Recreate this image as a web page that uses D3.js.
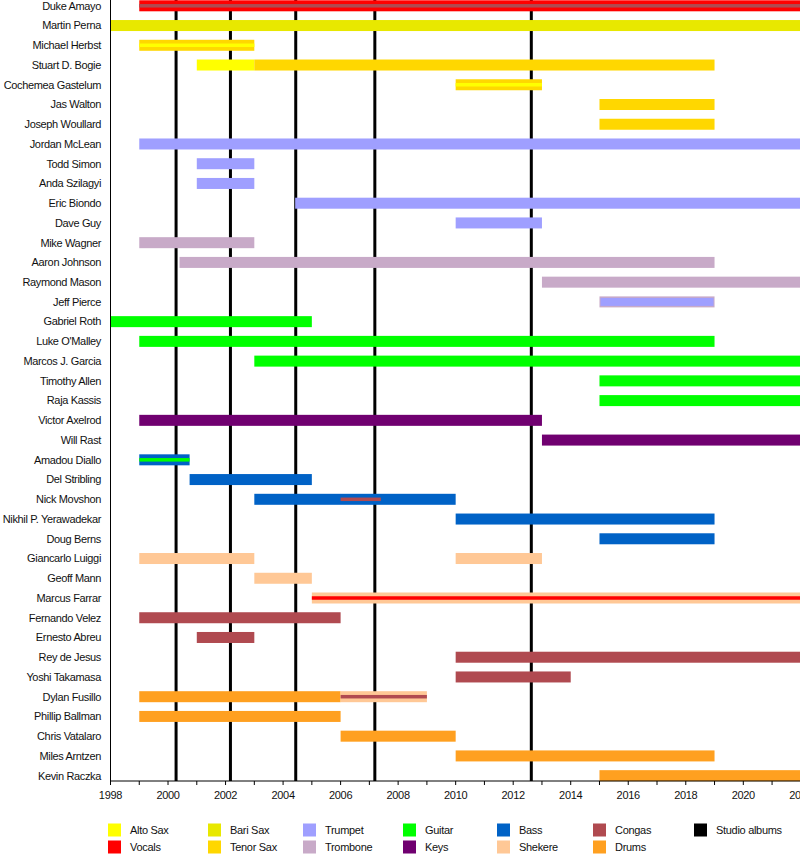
<!DOCTYPE html>
<html><head><meta charset="utf-8">
<script src="https://cdn.jsdelivr.net/npm/d3@7"></script>
<style>
html,body{margin:0;padding:0;background:#fff;}
svg{display:block;font-family:"Liberation Sans",Arial,sans-serif;}
</style></head>
<body><svg id="c" width="800" height="855"></svg>
<script>
const members = ["Duke Amayo","Martin Perna","Michael Herbst","Stuart D. Bogie","Cochemea Gastelum","Jas Walton","Joseph Woullard","Jordan McLean","Todd Simon","Anda Szilagyi","Eric Biondo","Dave Guy","Mike Wagner","Aaron Johnson","Raymond Mason","Jeff Pierce","Gabriel Roth","Luke O'Malley","Marcos J. Garcia","Timothy Allen","Raja Kassis","Victor Axelrod","Will Rast","Amadou Diallo","Del Stribling","Nick Movshon","Nikhil P. Yerawadekar","Doug Berns","Giancarlo Luiggi","Geoff Mann","Marcus Farrar","Fernando Velez","Ernesto Abreu","Rey de Jesus","Yoshi Takamasa","Dylan Fusillo","Phillip Ballman","Chris Vatalaro","Miles Arntzen","Kevin Raczka"];

const instruments = ["Alto Sax","Vocals","Bari Sax","Tenor Sax","Trumpet","Trombone","Guitar","Keys","Bass","Shekere","Congas","Drums","Studio albums"];
const instrumentColors = ["#ffff00","#ff0000","#e8e800","#ffd700","#9f9fff","#c8aac8","#00ff00","#700070","#0062c6","#ffc896","#b04a50","#ffa020","#000000"];

const PRESENT = 2023;
// main periods: [member, instrument, start, end]
const periods = [
 ["Duke Amayo","Vocals",1999,PRESENT],
 ["Martin Perna","Bari Sax",1998,PRESENT],
 ["Michael Herbst","Tenor Sax",1999,2003],
 ["Stuart D. Bogie","Alto Sax",2001,2003],
 ["Stuart D. Bogie","Tenor Sax",2003,2019],
 ["Cochemea Gastelum","Tenor Sax",2010,2013],
 ["Jas Walton","Tenor Sax",2015,2019],
 ["Joseph Woullard","Tenor Sax",2015,2019],
 ["Jordan McLean","Trumpet",1999,PRESENT],
 ["Todd Simon","Trumpet",2001,2003],
 ["Anda Szilagyi","Trumpet",2001,2003],
 ["Eric Biondo","Trumpet",2004.42,PRESENT],
 ["Dave Guy","Trumpet",2010,2013],
 ["Mike Wagner","Trombone",1999,2003],
 ["Aaron Johnson","Trombone",2000.4,2019],
 ["Raymond Mason","Trombone",2013,PRESENT],
 ["Jeff Pierce","Trombone",2015,2019],
 ["Gabriel Roth","Guitar",1998,2005],
 ["Luke O'Malley","Guitar",1999,2019],
 ["Marcos J. Garcia","Guitar",2003,PRESENT],
 ["Timothy Allen","Guitar",2015,PRESENT],
 ["Raja Kassis","Guitar",2015,PRESENT],
 ["Victor Axelrod","Keys",1999,2013],
 ["Will Rast","Keys",2013,PRESENT],
 ["Amadou Diallo","Bass",1999,2000.75],
 ["Del Stribling","Bass",2000.75,2005],
 ["Nick Movshon","Bass",2003,2010],
 ["Nikhil P. Yerawadekar","Bass",2010,2019],
 ["Doug Berns","Bass",2015,2019],
 ["Giancarlo Luiggi","Shekere",1999,2003],
 ["Giancarlo Luiggi","Shekere",2010,2013],
 ["Geoff Mann","Shekere",2003,2005],
 ["Marcus Farrar","Shekere",2005,PRESENT],
 ["Fernando Velez","Congas",1999,2006],
 ["Ernesto Abreu","Congas",2001,2003],
 ["Rey de Jesus","Congas",2010,PRESENT],
 ["Yoshi Takamasa","Congas",2010,2014],
 ["Dylan Fusillo","Drums",1999,2006],
 ["Dylan Fusillo","Shekere",2006,2009],
 ["Phillip Ballman","Drums",1999,2006],
 ["Chris Vatalaro","Drums",2006,2010],
 ["Miles Arntzen","Drums",2010,2019],
 ["Kevin Raczka","Drums",2015,PRESENT]
];
// secondary roles drawn as thin inner stripes: [member, instrument, start, end]
const stripes = [
 ["Duke Amayo","Congas",1999,PRESENT],
 ["Michael Herbst","Alto Sax",1999,2003],
 ["Cochemea Gastelum","Alto Sax",2010,2013],
 ["Amadou Diallo","Guitar",1999,2000.75],
 ["Nick Movshon","Congas",2006,2007.4],
 ["Marcus Farrar","Vocals",2005,PRESENT],
 ["Dylan Fusillo","Congas",2006,2009]
];
// secondary roles drawn as wide inner bars
const insets = [
 ["Jeff Pierce","Trumpet",2015,2019]
];
const albums = [2000.28, 2002.17, 2004.44, 2007.19, 2012.63];
const tickYears = [1998,2000,2002,2004,2006,2008,2010,2012,2014,2016,2018,2020,2022];

const svg = d3.select("#c");
const color = d3.scaleOrdinal().domain(instruments).range(instrumentColors);
const x = d3.scaleLinear().domain([1998,2020]).range([110.5,743.3]);
const rowStep = 19.74;
const y = d3.scaleBand().domain(members).range([5.8 - rowStep/2, 5.8 - rowStep/2 + rowStep*members.length]);
const cy = m => y(m) + y.bandwidth()/2;
const barH = 11;
const axisY = 781;

// album lines (behind bars)
svg.append("g").selectAll("line").data(albums).join("line")
  .attr("x1", d=>x(d)).attr("x2", d=>x(d)).attr("y1", 0).attr("y2", axisY)
  .attr("stroke", "#000").attr("stroke-width", 3);

// bars
svg.append("g").selectAll("rect").data(periods).join("rect")
  .attr("x", d=>x(d[2])).attr("width", d=>x(d[3])-x(d[2]))
  .attr("y", d=>cy(d[0]) - barH/2).attr("height", barH)
  .attr("fill", d=>color(d[1]));

svg.append("g").selectAll("rect").data(insets).join("rect")
  .attr("x", d=>x(d[2])+1).attr("width", d=>x(d[3])-x(d[2])-2)
  .attr("y", d=>cy(d[0]) - 4).attr("height", 8)
  .attr("fill", d=>color(d[1]));

svg.append("g").selectAll("rect").data(stripes).join("rect")
  .attr("x", d=>x(d[2])).attr("width", d=>x(d[3])-x(d[2]))
  .attr("y", d=>cy(d[0]) - 1.75).attr("height", 3.5)
  .attr("fill", d=>color(d[1]));

// member labels
svg.append("g").selectAll("text").data(members).join("text")
  .attr("x", 101).attr("y", d=>cy(d)).attr("dy", "0.35em")
  .attr("text-anchor", "end").attr("font-size", 11).attr("letter-spacing", -0.35).attr("fill", "#111")
  .text(d=>d);

// left axis line
svg.append("line").attr("x1",110.5).attr("x2",110.5).attr("y1",0).attr("y2",axisY)
  .attr("stroke","#000").attr("stroke-width",1);

// bottom axis
const gx = svg.append("g").attr("transform", `translate(0,${axisY})`);
const minor = d3.range(1998, 2023, 1);
gx.append("line").attr("x1",110.5).attr("x2",800).attr("y1",0).attr("y2",0).attr("stroke","#000");
gx.selectAll("line.t").data(minor).join("line").attr("class","t")
  .attr("x1",d=>x(d)).attr("x2",d=>x(d)).attr("y1",0).attr("y2",4).attr("stroke","#000");
gx.selectAll("text").data(tickYears).join("text")
  .attr("x",d=>x(d)).attr("y",14).attr("dy","0.35em")
  .attr("text-anchor","middle").attr("font-size",11).attr("letter-spacing",-0.3).attr("fill","#111")
  .text(d=>d);

// legend
const legendCols = [108, 208, 303, 403, 497, 593, 694];
const legendRows = [830, 847];
const legendItems = instruments.map((name,i)=>({name, col: Math.floor(i/2), row: i%2}));
const lg = svg.append("g").selectAll("g").data(legendItems).join("g")
  .attr("transform", d=>`translate(${legendCols[d.col]},${legendRows[d.row]})`);
lg.append("rect").attr("x",0).attr("y",-6.5).attr("width",13).attr("height",13)
  .attr("fill", d=>color(d.name));
lg.append("text").attr("x",22).attr("y",0).attr("dy","0.35em")
  .attr("font-size",11).attr("letter-spacing",-0.3).attr("fill","#111").text(d=>d.name);
</script>
</body></html>
